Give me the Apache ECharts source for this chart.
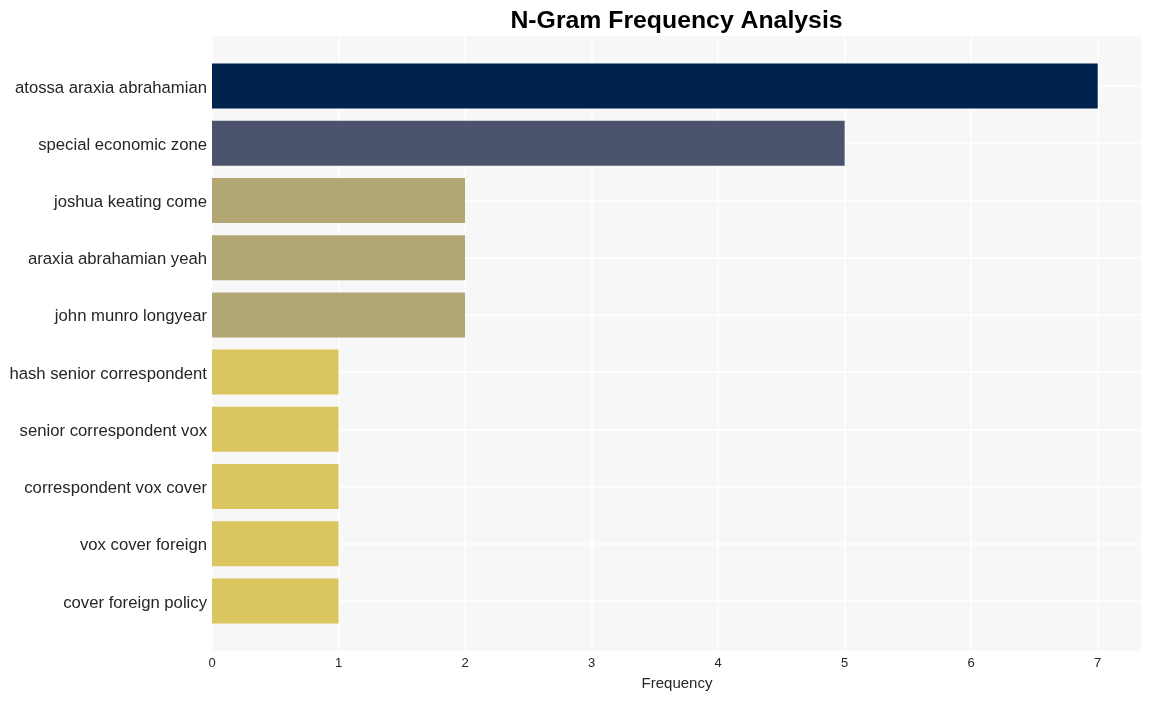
<!DOCTYPE html>
<html>
<head>
<meta charset="utf-8">
<script src="https://cdn.jsdelivr.net/npm/echarts@6/dist/echarts.min.js"></script>
<style>html,body{margin:0;padding:0;background:#fff;}#c{width:1151px;height:701px;}</style>
</head>
<body>
<div id="c"></div>
<script>
const categories = ["atossa araxia abrahamian","special economic zone","joshua keating come","araxia abrahamian yeah","john munro longyear","hash senior correspondent","senior correspondent vox","correspondent vox cover","vox cover foreign","cover foreign policy"];
const values = [7,5,2,2,2,1,1,1,1,1];
const barColors = ["#00224e","#4b546c","#b2a773","#b2a773","#b2a773","#dbc55e","#dbc55e","#dbc55e","#dbc55e","#dbc55e"];
const xMax = 7.35;

const chart = echarts.init(document.getElementById('c'));
const font = 'Liberation Sans, Arial, sans-serif';
chart.setOption({
  animation: false,
  backgroundColor: '#ffffff',
  graphic: [{
    type: 'text', x: 676.5, y: 21,
    style: {text: 'N-Gram Frequency Analysis', fontFamily: font, fontSize: 24.8, fontWeight: 'bold',
      fill: '#000', textAlign: 'center', textVerticalAlign: 'middle'}
  }],
  grid: [
    {left: 212, top: 36, width: 930, height: 615, show: true, backgroundColor: '#f7f7f7', borderWidth: 0, containLabel: false},
    {left: 212, top: 86, width: 930, height: 515, show: false, containLabel: false}
  ],
  xAxis: [
    {gridIndex: 0, type: 'value', min: 0, max: xMax, interval: 1,
     name: 'Frequency', nameLocation: 'middle', nameGap: 25,
     nameTextStyle: {fontFamily: font, fontSize: 15, color: '#262626'},
     axisLine: {show: false}, axisTick: {show: false},
     axisLabel: {fontFamily: font, fontSize: 13, color: '#262626', margin: 6,
       formatter: v => Number.isInteger(v) ? String(v) : ''},
     splitLine: {show: true, lineStyle: {color: '#ffffff', width: 1.5}}},
    {gridIndex: 1, type: 'value', min: 0, max: xMax, show: false, splitLine: {show: false}}
  ],
  yAxis: [
    {gridIndex: 0, type: 'value', show: false, splitLine: {show: false}},
    {gridIndex: 1, type: 'category', data: categories, inverse: true, boundaryGap: false,
     axisLine: {show: false}, axisTick: {show: false},
     axisLabel: {margin: 5, formatter: v => '{a|' + v + '}',
       rich: {a: {fontFamily: font, fontSize: 16.7, color: '#262626', padding: [4, 0, 0, 0]}}},
     splitLine: {show: true, lineStyle: {color: '#ffffff', width: 1.5}}}
  ],
  series: [{
    type: 'bar', xAxisIndex: 1, yAxisIndex: 1, barWidth: 45, clip: false,
    data: values.map((v, i) => ({value: v, itemStyle: {color: barColors[i]}}))
  }]
});
</script>
</body>
</html>
